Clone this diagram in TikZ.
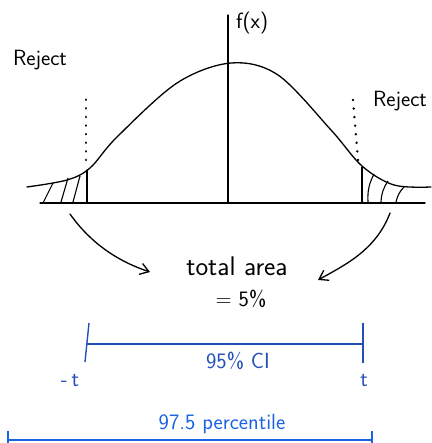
\documentclass[tikz,border=0pt]{standalone}
\usepackage{tikz}
\usetikzlibrary{arrows.meta,positioning}
\definecolor{ciblue}{HTML}{2350B8}
\definecolor{pcblue}{HTML}{1C62E4}

\begin{document}
\begin{tikzpicture}[x=1pt,y=-1pt,
    hand/.style={line width=1.3pt,line cap=round},
    lbl/.style={font=\sffamily\fontsize{22}{26}\selectfont,inner sep=0pt},
    biglbl/.style={font=\sffamily\fontsize{27}{30}\selectfont,inner sep=0pt},
    cut/.style={line width=2.6pt,line cap=round,dash pattern=on 0.1pt off 8.5pt},
    hatch/.style={line width=1.1pt},
    pointer/.style={hand,-{Straight Barb[length=3mm,width=4mm]}},
    ciline/.style={line width=1.4pt,draw=ciblue},
    pcline/.style={line width=1.6pt,draw=pcblue}
  ]
    \useasboundingbox (0,0) rectangle (431,443);
    % axes
    \coordinate (x0) at (40,203);
    \coordinate (x1) at (425,203);
    \coordinate (y0) at (228,203);
    \coordinate (y1) at (228,15);
    \draw[hand] (x0)--(x1);
    \draw[hand] (y0)--(y1);
    \node[lbl,anchor=west] (fx) at (236,23) {f(x)};
    % bell curve
    \draw[hand] plot[smooth,tension=0.55] coordinates {(27,187) (67,180)
      (90,168) (117,137) (177,83) (231,63) (278,75) (331,130) (362,166)
      (394,185) (431,187)};
    % critical values
    \coordinate (lc0) at (87,203);
    \coordinate (lc1) at (87,170);
    \coordinate (rc0) at (362,203);
    \coordinate (rc1) at (362,167);
    \draw[hand] (lc0)--(lc1);
    \draw[hand] (rc0)--(rc1);
    \coordinate (ld0) at (86,160);
    \coordinate (ld1) at (86,97);
    \coordinate (rd0) at (358,160);
    \coordinate (rd1) at (353,100);
    \draw[cut] (ld0)--(ld1);
    \draw[cut] (rd0)--(rd1);
    % tails
    \foreach \a/\b/\c/\d in {43/203/53/183,61/202/68/178,73/202/80/176}
      \draw[hatch] (\a,\b)--(\c,\d);
    \foreach \a/\b/\c/\d in {368/202/374/174,381/202/388/181,396/202/404/187}
      \draw[hatch] (\a,\b) to[bend left=15] (\c,\d);
    \node[lbl] (rejl) at (40,60) {Reject};
    \node[lbl] (rejr) at (400,101) {Reject};
    % area
    \node[biglbl] (area) at (237,266) {total area};
    \node[lbl,below=14pt of area,xshift=4pt] (pct) {= 5\%};
    \coordinate (lt) at (70,214);
    \coordinate (rt) at (390,213);
    \draw[pointer] (lt) .. controls (92,245) and (120,262) .. (150,272);
    \draw[pointer] (rt) .. controls (376,250) and (345,265) .. (318,280);
    % confidence interval
    \coordinate (cil) at (87,344);
    \coordinate (cir) at (363,344);
    \draw[ciline] (cil)--(cir);
    \draw[ciline] (89,323)--(85,362);
    \draw[ciline] (363,323)--(363,363);
    \node[lbl,text=ciblue] (ci) at (238,361) {95\% CI};
    \node[lbl,text=ciblue] (mt) at (70,381) {-\,t};
    \node[lbl,text=ciblue] (pt) at (364,381) {t};
    % percentile
    \coordinate (pl) at (8,440);
    \coordinate (pr) at (372,440);
    \draw[pcline] (pl)--(pr);
    \draw[pcline] (8,431)--(8,443);
    \draw[pcline] (372,431)--(372,443);
    \node[lbl,text=pcblue] (perc) at (222,424) {97.5 percentile};
\end{tikzpicture}
\end{document}
